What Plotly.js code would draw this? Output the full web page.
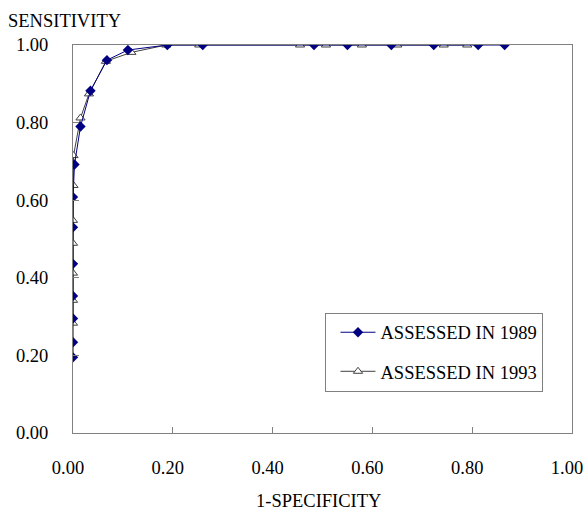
<!DOCTYPE html>
<html>
<head>
<meta charset="utf-8">
<script src="https://cdn.plot.ly/plotly-3.0.1.min.js"></script>
<style>html,body{margin:0;padding:0;background:#fff;}#chart{width:585px;height:510px;}</style>
</head>
<body>
<div id="chart"></div>
<script>
// 1-specificity (x) and sensitivity (y)
const x1989 = [0.000, 0.000, 0.000, 0.000, 0.000, 0.000, 0.000, 0.003, 0.015, 0.035, 0.068, 0.110, 0.189, 0.260, 0.483, 0.550, 0.638, 0.723, 0.812, 0.865];
const y1989 = [0.195, 0.234, 0.295, 0.353, 0.436, 0.530, 0.608, 0.692, 0.790, 0.882, 0.961, 0.987, 1.000, 1.000, 1.000, 1.000, 1.000, 1.000, 1.000, 1.000];
const x1993 = [0.000, 0.000, 0.000, 0.000, 0.000, 0.001, 0.001, 0.015, 0.032, 0.066, 0.117, 0.187, 0.253, 0.455, 0.507, 0.579, 0.650, 0.743, 0.790];
const y1993 = [0.283, 0.342, 0.412, 0.489, 0.548, 0.638, 0.715, 0.812, 0.874, 0.958, 0.981, 1.000, 1.000, 1.000, 1.000, 1.000, 1.000, 1.000, 1.000];
const tickVals = [0, 0.2, 0.4, 0.6, 0.8, 1.0];
const tickText = ["0.00", "0.20", "0.40", "0.60", "0.80", "1.00"];
const seriesNames = ["ASSESSED IN 1989", "ASSESSED IN 1993"];
const xTitle = "1-SPECIFICITY";
const yTitle = "SENSITIVITY";

const font = {family: "Liberation Serif", size: 18.5, color: "#000"};

const traces = [
  {
    x: x1993, y: y1993, name: seriesNames[1], type: "scatter", mode: "lines+markers",
    legendgroup: "b", legendrank: 2,
    line: {color: "#404040", width: 1},
    marker: {symbol: "triangle-up", size: 8, color: "#fff", line: {color: "#404040", width: 1}}
  },
  {
    x: x1989, y: y1989, name: seriesNames[0], type: "scatter", mode: "lines+markers",
    legendgroup: "a", legendrank: 1,
    line: {color: "#000080", width: 1},
    marker: {symbol: "diamond", size: 8, color: "#000080"}
  }
];

const axisCommon = {
  range: [0, 1], tickvals: tickVals, ticktext: tickText,
  showgrid: false, zeroline: false, showline: true, mirror: true,
  linecolor: "#808080", linewidth: 1,
  ticks: "inside", ticklen: 6, tickcolor: "#808080", tickwidth: 1,
  tickfont: font, fixedrange: true, ticklabeloverflow: "allow"
};

const layout = {
  width: 585, height: 510,
  margin: {l: 73, r: 12.5, t: 44.5, b: 77.3, pad: 0},
  paper_bgcolor: "#fff", plot_bgcolor: "#fff",
  font: font,
  xaxis: Object.assign({}, axisCommon, {ticklabelstandoff: 18, ticklabelshift: -5}),
  yaxis: Object.assign({}, axisCommon, {ticklabelstandoff: 20}),
  showlegend: true,
  legend: {
    x: 0.506, y: 0.31, xanchor: "left", yanchor: "top",
    bordercolor: "#808080", borderwidth: 1, bgcolor: "#fff",
    font: font, traceorder: "grouped", tracegroupgap: 12,
    indentation: 9, itemwidth: 35
  },
  annotations: [
    {text: yTitle, xref: "paper", yref: "paper", x: -0.134, y: 1.063, xanchor: "left", yanchor: "middle", showarrow: false, font: font},
    {text: xTitle, xref: "paper", yref: "paper", x: 0.492, y: -0.175, xanchor: "center", yanchor: "middle", showarrow: false, font: font}
  ]
};

Plotly.newPlot("chart", traces, layout, {displayModeBar: false, staticPlot: true});
</script>
</body>
</html>
